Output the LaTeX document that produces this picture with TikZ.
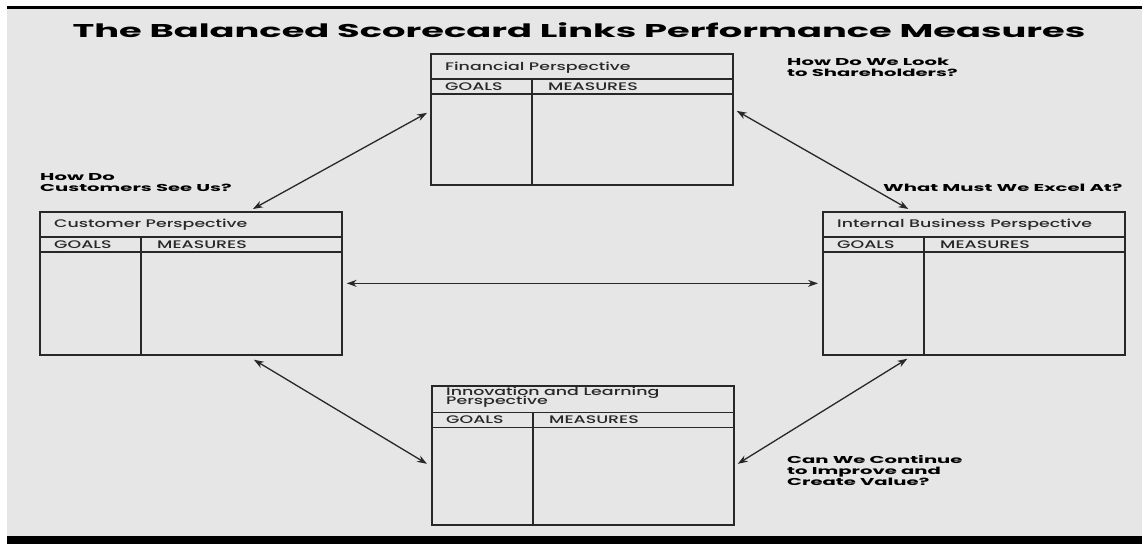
\documentclass[tikz,border=0pt]{standalone}
\usepackage{fontspec}
\usetikzlibrary{arrows.meta}
\setmainfont{Poppins}
\newfontfamily\boxfont{Poppins}[UprightFont={Poppins Medium}, FakeStretch=1.58]
\newfontfamily\titlefont{Poppins}[FakeStretch=1.99]
\newfontfamily\labelfont{Poppins}[FakeStretch=1.96]
\newcommand\tightlines{\lineskiplimit=-20pt\relax}
\definecolor{bg}{RGB}{230,230,230}
\definecolor{ink}{RGB}{40,40,40}
\tikzset{
  card/.style={draw=ink, line width=1.7pt, minimum width=302pt, inner sep=0pt, anchor=north west},
  rule/.style={draw=ink, line width=1.1pt},
  link/.style={draw=ink, line width=1.3pt, {Stealth[length=10pt,width=7pt]}-{Stealth[length=10pt,width=7pt]}},
  boxtext/.style={font={\boxfont\fontsize{11}{9}\selectfont\tightlines}, anchor=base west, inner sep=0pt, align=left, text=ink},
  qlabel/.style={font={\labelfont\bfseries\fontsize{10}{10.8}\selectfont\tightlines}, anchor=base west, inner sep=0pt, align=left, text=black},
  titletext/.style={font={\titlefont\bfseries\fontsize{18.5}{20}\selectfont}, anchor=base, inner sep=0pt, text=black}
}
% #1 name, #2 x, #3 y, #4 height, #5 header height, #6 title baseline offset (last line), #7 title
\newcommand\scorecard[7]{%
  \node[card, minimum height=#4pt] (#1) at (#2,#3) {};
  \draw[rule] ([yshift=-#5pt]#1.north west) -- ([yshift=-#5pt]#1.north east);
  \draw[rule] ([yshift=-#5pt-15pt]#1.north west) -- ([yshift=-#5pt-15pt]#1.north east);
  \draw[rule, line width=1.6pt] ([xshift=102pt,yshift=-#5pt]#1.north west) -- ([xshift=102pt]#1.south west);
  \node[boxtext] (#1-title) at ([xshift=15pt,yshift=-#6pt]#1.north west) {#7};
  \node[boxtext] (#1-goals) at ([xshift=15pt,yshift=-#5pt-11pt]#1.north west) {GOALS};
  \node[boxtext] (#1-meas) at ([xshift=118pt,yshift=-#5pt-11pt]#1.north west) {MEASURES};
}
\begin{document}
\begin{tikzpicture}[x=1pt,y=-1pt]
\useasboundingbox (0,0) rectangle (1142,544);
\fill[white] (0,0) rectangle (1142,544);
\fill[bg] (7,9) rectangle (1142,536);
\fill[black] (7,6) rectangle (1142,9);
\fill[black] (7,536) rectangle (1142,544);

\node[titletext] (title) at (579,37) {The Balanced Scorecard Links Performance Measures};

\scorecard{fin}{430}{53}{131}{26}{17}{Financial Perspective}
\scorecard{cust}{39}{211}{143}{26}{16}{Customer Perspective}
\scorecard{int}{822}{211}{143}{26}{16}{Internal Business Perspective}
\scorecard{inn}{431}{385}{139}{27.5}{19}{Innovation and Learning\\Perspective}

\node[qlabel] (q1) at (787,76) {How Do We Look\\to Shareholders?};
\node[qlabel] (q2) at (40,191) {How Do\\Customers See Us?};
\node[qlabel] (q3) at (883,191) {What Must We Excel At?};
\node[qlabel] (q4) at (787,485) {Can We Continue\\to Improve and\\Create Value?};

\draw[link] ([xshift=-3pt,yshift=6.5pt]fin.west) -- ([xshift=62pt,yshift=2pt]cust.north);
\draw[link] ([xshift=3pt,yshift=8.5pt]fin.east) -- ([xshift=-65.5pt,yshift=2pt]int.north);
\draw[link] ([xshift=4pt]cust.east) -- ([xshift=-4pt]int.west);
\draw[link] ([xshift=63pt,yshift=-4pt]cust.south) -- ([xshift=-4pt,yshift=-8.5pt]inn.west);
\draw[link] ([xshift=-66.5pt,yshift=-3pt]int.south) -- ([xshift=3pt,yshift=-8.5pt]inn.east);
\end{tikzpicture}
\end{document}
